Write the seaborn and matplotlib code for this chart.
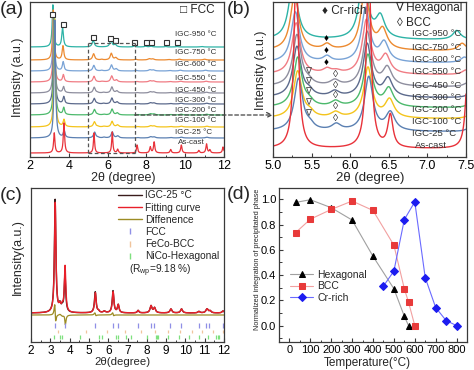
import numpy as np
import matplotlib
matplotlib.use("Agg")
import matplotlib.pyplot as plt
import seaborn as sns
from matplotlib.lines import Line2D
from matplotlib.patches import ConnectionPatch
from matplotlib.ticker import MultipleLocator

# ---------------- data: panels (a) and (b) ----------------
sample_labels = ["As-cast", "IGC-25 °C", "IGC-100 °C", "IGC-200 °C", "IGC-300 °C",
                 "IGC-450 °C", "IGC-550 °C", "IGC-600 °C", "IGC-750 °C", "IGC-950 °C"]
sample_colors = ["#e8323a", "#5b80b2", "#f4c41c", "#4cb96c", "#5c6a8c",
                 "#8e8e9e", "#f07c84", "#79a3d6", "#ec8a30", "#2db3a6"]
offsets_a = [4, 19, 30, 42, 53, 64, 75, 86, 97, 110]
offsets_b = [8, 25, 38, 49, 59, 70, 82, 94, 106, 117]
label_y_a = [14, 24, 36, 47, 57, 67, 78, 93, 104, 123]
label_y_b = [11, 23, 36, 48, 59, 71, 85, 97, 109, 124]

# peaks: (2theta, height, half-width)
peaks_as_cast = [(3.25, 20, 0.04), (3.75, 30, 0.04), (5.30, 20, 0.035), (6.24, 21, 0.035),
                 (6.52, 3.6, 0.04), (7.52, 8, 0.035), (8.20, 6, 0.04), (8.40, 11, 0.04),
                 (9.25, 3.5, 0.04), (9.80, 8, 0.04), (10.70, 2.5, 0.04), (11.10, 9, 0.04),
                 (11.27, 3, 0.04), (11.95, 6, 0.04)]
peaks_igc25 = [(3.28, 118, 0.045), (3.76, 7, 0.05), (5.33, 5.8, 0.065), (5.48, 0.5, 0.06),
               (5.82, 0.7, 0.07), (6.24, 6.0, 0.065), (6.52, 2.0, 0.07), (7.55, 0.4, 0.06),
               (8.22, 1.2, 0.08), (8.40, 1.0, 0.08), (9.25, 0.5, 0.08), (9.80, 0.8, 0.08),
               (11.12, 0.8, 0.08)]
peaks_igc100 = [(3.27, 108, 0.045), (3.75, 7, 0.05), (5.32, 5.2, 0.065), (5.48, 0.5, 0.06),
                (5.81, 0.6, 0.07), (6.23, 5.6, 0.065), (6.51, 2.0, 0.07), (7.55, 0.4, 0.06),
                (8.22, 1.2, 0.08), (8.40, 1.0, 0.08), (9.25, 0.5, 0.08), (9.80, 0.8, 0.08),
                (11.12, 0.8, 0.08)]
peaks_igc200 = [(3.26, 98, 0.045), (3.74, 7, 0.05), (5.32, 5.5, 0.065), (5.47, 0.5, 0.06),
                (5.81, 0.6, 0.07), (6.23, 5.8, 0.065), (6.50, 2.0, 0.07), (7.55, 0.4, 0.06),
                (8.21, 1.2, 0.08), (8.39, 1.0, 0.08), (9.24, 0.5, 0.08), (9.79, 0.8, 0.08),
                (11.11, 0.8, 0.08)]
peaks_igc300 = [(3.25, 88, 0.045), (3.74, 7, 0.05), (5.31, 5.6, 0.065), (5.47, 0.5, 0.06),
                (5.80, 0.6, 0.07), (6.22, 5.9, 0.065), (6.49, 2.0, 0.07), (7.55, 0.4, 0.06),
                (8.21, 1.2, 0.08), (8.39, 1.0, 0.08), (9.24, 0.5, 0.08), (9.79, 0.8, 0.08),
                (11.11, 0.8, 0.08)]
peaks_igc450 = [(3.24, 78, 0.045), (3.73, 6, 0.05), (5.31, 5.7, 0.065), (5.46, 0.4, 0.06),
                (5.80, 0.6, 0.07), (6.22, 6.0, 0.065), (6.48, 2.0, 0.07), (7.52, 0.4, 0.06),
                (8.20, 1.2, 0.08), (8.38, 1.0, 0.08), (9.23, 0.5, 0.08), (9.78, 0.8, 0.08),
                (11.10, 0.8, 0.08)]
peaks_igc550 = [(3.23, 68, 0.045), (3.72, 7, 0.05), (5.30, 5.7, 0.065), (5.70, 0.5, 0.06),
                (5.82, 0.3, 0.07), (6.21, 6.0, 0.065), (6.46, 2.0, 0.07), (7.50, 0.5, 0.06),
                (8.19, 1.2, 0.08), (8.37, 1.0, 0.08), (9.22, 0.5, 0.08), (9.77, 0.8, 0.08),
                (11.08, 0.8, 0.08)]
peaks_igc600 = [(3.22, 58, 0.045), (3.71, 9, 0.05), (5.29, 5.6, 0.065), (5.70, 0.6, 0.06),
                (6.20, 6.0, 0.065), (6.44, 2.1, 0.07), (7.48, 0.6, 0.06), (8.18, 1.2, 0.08),
                (8.36, 1.0, 0.08), (9.20, 0.5, 0.08), (9.75, 0.8, 0.08), (11.05, 0.8, 0.08)]
peaks_igc750 = [(3.20, 50, 0.045), (3.70, 14, 0.05), (5.28, 6.2, 0.065), (5.70, 0.6, 0.06),
                (6.19, 6.6, 0.065), (6.42, 2.2, 0.07), (7.45, 0.8, 0.06), (8.15, 1.2, 0.08),
                (8.33, 1.0, 0.08), (9.15, 0.5, 0.08), (9.70, 0.8, 0.08), (11.00, 0.8, 0.08)]
peaks_igc950 = [(3.18, 42, 0.045), (3.68, 19, 0.05), (5.26, 6.6, 0.065), (6.17, 7.0, 0.065),
                (6.39, 2.4, 0.07), (7.38, 1.0, 0.06), (7.96, 0.8, 0.07), (8.24, 0.8, 0.07),
                (9.00, 0.5, 0.07), (9.58, 0.5, 0.07), (10.85, 0.5, 0.08)]
sample_peaks = [peaks_as_cast, peaks_igc25, peaks_igc100, peaks_igc200, peaks_igc300,
                peaks_igc450, peaks_igc550, peaks_igc600, peaks_igc750, peaks_igc950]
scale_b = 9.0

fcc_marker_x = [3.15, 3.69, 5.24, 6.12, 6.38, 7.38, 7.96, 8.24, 9.0, 9.58]
cr_rich_idx = [6, 7, 8]
hex_idx = [1, 2, 3, 4, 5]
bcc_idx = [1, 2, 3, 4, 5]

# ---------------- data: panel (c) ----------------
peaks_obs_c = [(3.25, 113, 0.045), (3.50, 7, 0.06), (3.62, 4, 0.05), (3.76, 38, 0.045),
               (5.33, 21, 0.05), (5.50, 1.5, 0.05), (5.80, 1.5, 0.07), (6.25, 22, 0.05),
               (6.52, 8, 0.05), (7.55, 2.5, 0.05), (8.22, 7, 0.06), (8.40, 5, 0.06),
               (9.25, 4, 0.06), (9.80, 4, 0.06), (10.70, 1.5, 0.06), (11.12, 4, 0.07),
               (11.28, 2, 0.06), (11.95, 2, 0.06)]
peaks_fit_c = [(3.255, 110, 0.045), (3.50, 6, 0.06), (3.62, 5, 0.05), (3.765, 46, 0.045),
               (5.335, 20, 0.05), (5.50, 1.5, 0.05), (5.80, 1.5, 0.07), (6.255, 21, 0.05),
               (6.52, 8, 0.05), (7.55, 2.5, 0.05), (8.22, 7, 0.06), (8.40, 5, 0.06),
               (9.25, 4, 0.06), (9.80, 4, 0.06), (10.70, 1.5, 0.06), (11.12, 4, 0.07),
               (11.28, 2, 0.06), (11.95, 2, 0.06)]
base_obs_c = 29
base_diff_c = 27
fcc_ticks = [3.25, 3.77, 5.33, 6.25, 6.52, 7.52, 8.22, 8.38, 9.2, 9.78, 10.68, 11.06, 11.23, 11.95]
bcc_ticks = [3.4, 4.85, 5.95, 6.88, 7.7, 8.43, 9.1, 9.73, 10.33, 10.88, 11.42, 11.93]
hex_ticks = [3.2, 3.51, 3.62, 4.55, 5.5, 5.68, 6.38, 6.5, 6.9, 7.16, 8.03, 8.46, 8.53, 8.6,
             9.12, 9.67, 10.2, 10.7, 11.15, 11.6, 11.68, 11.75]

# ---------------- data: panel (d) ----------------
hex_T = [30, 100, 200, 300, 400, 500, 550, 570]
hex_v = [0.976, 0.997, 0.934, 0.836, 0.549, 0.292, 0.074, 0.0]
bcc_T = [30, 100, 200, 300, 400, 500, 550, 570, 600]
bcc_v = [0.737, 0.843, 0.92, 0.987, 0.912, 0.637, 0.292, 0.186, 0.0]
cr_T = [450, 500, 550, 600, 650, 700, 750, 800]
cr_v = [0.313, 0.432, 0.84, 0.98, 0.38, 0.143, 0.04, 0.0]

# ---------------- style ----------------
sns.set_theme(style="ticks")
plt.rcParams["font.family"] = ["Liberation Sans", "DejaVu Sans"]
plt.rcParams["mathtext.fontset"] = "custom"
plt.rcParams["mathtext.rm"] = "Liberation Sans"
plt.rcParams["mathtext.it"] = "Liberation Sans:italic"
plt.rcParams["axes.edgecolor"] = "#3a3a3a"
plt.rcParams["axes.linewidth"] = 0.9


def profile(x, peaks):
    y = np.zeros_like(x)
    for c, h, w in peaks:
        y += h / (1.0 + ((x - c) / w) ** 2)
    return y


W, H = 474, 370
fig = plt.figure(figsize=(W / 100, H / 100), dpi=100)


def axes_px(l, t, r, b):
    return fig.add_axes([l / W, 1 - b / H, (r - l) / W, (b - t) / H])


ax_a = axes_px(30, 2, 224, 157)
ax_b = axes_px(273, 2, 466, 157)
ax_c = axes_px(31, 188, 224, 342)
ax_d = axes_px(279, 188, 467, 342)

# ---------------- panel (a) ----------------
xa = np.linspace(2, 12, 3000)
curves_a = [offsets_a[k] + profile(xa, sample_peaks[k]) for k in range(len(sample_labels))]
for k in reversed(range(len(sample_labels))):
    sns.lineplot(x=xa, y=curves_a[k], ax=ax_a, color=sample_colors[k], linewidth=0.9,
                 estimator=None, sort=False)
    ax_a.text(9.47 if k > 0 else 9.63, label_y_a[k], sample_labels[k], fontsize=5.8,
              color="#333333", va="center", ha="left")
ax_a.set_xlim(2, 12)
ax_a.set_ylim(0, 155)
teal_a = curves_a[9]
fcc_y = [min(np.interp(v, xa, teal_a) + 4, 151) for v in fcc_marker_x]
ax_a.plot(fcc_marker_x, fcc_y, ls="none", marker="s", ms=3.6, mfc="white", mec="#333333",
          mew=0.8, zorder=5)
ax_a.text(0.773, 0.948, "□ FCC", transform=ax_a.transAxes, fontsize=8.5, va="center",
          color="#222222")
box_kw = dict(color="#555555", lw=0.9, dashes=(3, 2), zorder=6)
ax_a.plot([5.0, 5.0], [4, 114], **box_kw)
ax_a.plot([7.4, 7.4], [4, 114], **box_kw)
ax_a.plot([5.0, 7.4], [114, 114], **box_kw)
ax_a.plot([5.0, 7.4], [4, 4], **box_kw)
ax_a.set_yticks([])
ax_a.xaxis.set_major_locator(MultipleLocator(2))
ax_a.xaxis.set_minor_locator(MultipleLocator(1))
ax_a.set_xlabel("2θ (degree)", fontsize=9)
ax_a.set_ylabel("Intensity (a.u.)", fontsize=9)
ax_a.xaxis.set_label_coords(0.479, -0.1)
ax_a.yaxis.set_label_coords(-0.031, 0.516)

# ---------------- panel (b) ----------------
xb = np.linspace(5, 7.5, 1500)
curves_b = [offsets_b[k] + scale_b * profile(xb, sample_peaks[k]) for k in range(len(sample_labels))]
for k in reversed(range(len(sample_labels))):
    sns.lineplot(x=xb, y=curves_b[k], ax=ax_b, color=sample_colors[k], linewidth=1.0,
                 estimator=None, sort=False)
    ax_b.text(6.80 if k > 0 else 6.84, label_y_b[k], sample_labels[k], fontsize=6.8,
              color="#333333", va="center", ha="left")
ax_b.set_xlim(5, 7.5)
ax_b.set_ylim(0, 155)
for k in cr_rich_idx:
    yv = np.interp(5.69, xb, curves_b[k]) + 4
    ax_b.text(5.69, yv, "♦", fontsize=7, ha="center", va="center", color="black")
for k in hex_idx:
    yv = np.interp(5.47, xb, curves_b[k]) + 3
    ax_b.text(5.46, yv, "∇", fontsize=6.5, ha="center", va="center", color="#444444",
              family=["DejaVu Sans"])
for k in bcc_idx:
    yv = np.interp(5.81, xb, curves_b[k]) + 5
    ax_b.text(5.81, yv, "◊", fontsize=7.5, ha="center", va="center", color="#333333")
ax_b.text(0.254, 0.942, "♦ Cr-rich", transform=ax_b.transAxes, fontsize=8.5, va="center")
ax_b.text(0.632, 0.961, "∇ Hexagonal", transform=ax_b.transAxes, fontsize=8.5, va="center")
ax_b.text(0.642, 0.865, "◊ BCC", transform=ax_b.transAxes, fontsize=8.5, va="center")
ax_b.set_yticks([])
ax_b.xaxis.set_major_locator(MultipleLocator(0.5))
ax_b.xaxis.set_minor_locator(MultipleLocator(0.25))
ax_b.xaxis.set_major_formatter(matplotlib.ticker.FormatStrFormatter("%.1f"))
ax_b.set_xlim(5, 7.5)
ax_b.set_xlabel("2θ (degree)", fontsize=9.5)
ax_b.set_ylabel("Intensity (a.u.)", fontsize=9)
ax_b.xaxis.set_label_coords(0.503, -0.098)
ax_b.yaxis.set_label_coords(-0.031, 0.561)

con = ConnectionPatch(xyA=(7.4, 42), coordsA=ax_a.transData, xyB=(5.0, 42),
                      coordsB=ax_b.transData, arrowstyle="->", linestyle=(0, (3, 2)),
                      color="#444444", lw=0.9, mutation_scale=9, zorder=10)
fig.add_artist(con)

# ---------------- panel (c) ----------------
xc = np.linspace(2, 12, 3000)
obs_c = profile(xc, peaks_obs_c)
fit_c = profile(xc, peaks_fit_c)
sns.lineplot(x=xc, y=base_obs_c + obs_c, ax=ax_c, color="#3a1c1c", linewidth=1.0,
             estimator=None, sort=False)
sns.lineplot(x=xc, y=base_obs_c + fit_c, ax=ax_c, color="#e8202a", linewidth=1.0,
             estimator=None, sort=False)
sns.lineplot(x=xc, y=base_diff_c + (obs_c - fit_c), ax=ax_c, color="#9c8c24", linewidth=0.9,
             estimator=None, sort=False)
ax_c.vlines(fcc_ticks, 14, 19, color="#8f8fe6", lw=0.9)
ax_c.vlines(bcc_ticks, 9, 12.5, color="#f0c49c", lw=0.9)
ax_c.vlines(hex_ticks, 3, 7.5, color="#7ee07e", lw=0.9)
ax_c.set_xlim(2, 12)
ax_c.set_ylim(0, 154)
ax_c.set_yticks([])
ax_c.xaxis.set_major_locator(MultipleLocator(1))
ax_c.xaxis.set_minor_locator(MultipleLocator(0.5))
ax_c.set_xlabel("2θ(degree)", fontsize=8.2)
ax_c.set_ylabel("Intensity(a.u.)", fontsize=9)
ax_c.xaxis.set_label_coords(0.474, -0.097)
ax_c.yaxis.set_label_coords(-0.036, 0.55)
handles_c = [Line2D([], [], color="#3a1c1c", lw=1.0),
             Line2D([], [], color="#e8202a", lw=1.0),
             Line2D([], [], color="#9c8c24", lw=1.0),
             Line2D([], [], ls="none", marker="|", ms=5, color="#8f8fe6"),
             Line2D([], [], ls="none", marker="|", ms=5, color="#f0c49c"),
             Line2D([], [], ls="none", marker="|", ms=5, color="#7ee07e")]
labels_c = ["IGC-25 °C", "Fitting curve", "Diffenence", "FCC", "FeCo-BCC", "NiCo-Hexagonal"]
ax_c.legend(handles_c, labels_c, loc="upper left", bbox_to_anchor=(0.45, 0.985),
            frameon=False, fontsize=7.3, handlelength=2.4, handletextpad=0.3,
            labelspacing=0.22, borderpad=0, borderaxespad=0)
ax_c.text(0.508, 0.46, "(R$_\\mathrm{wp}$=9.18 %)", transform=ax_c.transAxes, fontsize=7.3,
          va="center")

# ---------------- panel (d) ----------------
sns.lineplot(x=hex_T, y=hex_v, ax=ax_d, color="#a0a0a0", linewidth=0.8, marker="^",
             markersize=4.5, markerfacecolor="black", markeredgecolor="black",
             label="Hexagonal", estimator=None, sort=False)
sns.lineplot(x=bcc_T, y=bcc_v, ax=ax_d, color="#f2a0a0", linewidth=0.8, marker="s",
             markersize=4, markerfacecolor="#e83a3a", markeredgecolor="#e83a3a",
             label="BCC", estimator=None, sort=False)
sns.lineplot(x=cr_T, y=cr_v, ax=ax_d, color="#6a6aff", linewidth=0.8, marker="D",
             markersize=4, markerfacecolor="#1c1cf0", markeredgecolor="#1c1cf0",
             label="Cr-rich", estimator=None, sort=False)
ax_d.set_xlim(-50, 850)
ax_d.xaxis.set_major_locator(MultipleLocator(100))
ax_d.xaxis.set_minor_locator(MultipleLocator(50))
ax_d.yaxis.set_major_locator(MultipleLocator(0.2))
ax_d.yaxis.set_minor_locator(MultipleLocator(0.1))
ax_d.set_ylim(-0.13, 1.09)
ax_d.yaxis.set_major_formatter(matplotlib.ticker.FormatStrFormatter("%.1f"))
ax_d.set_xlabel("Temperature(°C)", fontsize=8.5)
ax_d.set_ylabel("Normalized integration of precipitated phase", fontsize=5.2)
ax_d.xaxis.set_label_coords(0.468, -0.095)
ax_d.yaxis.set_label_coords(-0.096, 0.54)
ax_d.legend(loc="upper left", bbox_to_anchor=(0.06, 0.47), frameon=False, fontsize=7.5,
            handlelength=2.2, handletextpad=0.4, labelspacing=0.15, borderpad=0,
            borderaxespad=0)

# ---------------- common tick styling ----------------
for ax, fs in [(ax_a, 9), (ax_b, 9), (ax_c, 8.5), (ax_d, 8)]:
    ax.tick_params(which="major", direction="in", length=3, width=0.8, labelsize=fs, pad=2,
                   colors="#3a3a3a", labelcolor="black")
    ax.tick_params(which="minor", direction="in", length=1.8, width=0.7, colors="#3a3a3a")
    for s in ax.spines.values():
        s.set_visible(True)

for lab, (x, y) in zip(["(a)", "(b)", "(c)", "(d)"],
                       [(0, 1), (227, 1), (0, 187), (227, 186)]):
    fig.text(x / W, 1 - y / H, lab, fontsize=14, va="top", ha="left")

fig.savefig("out.png", dpi=100)
